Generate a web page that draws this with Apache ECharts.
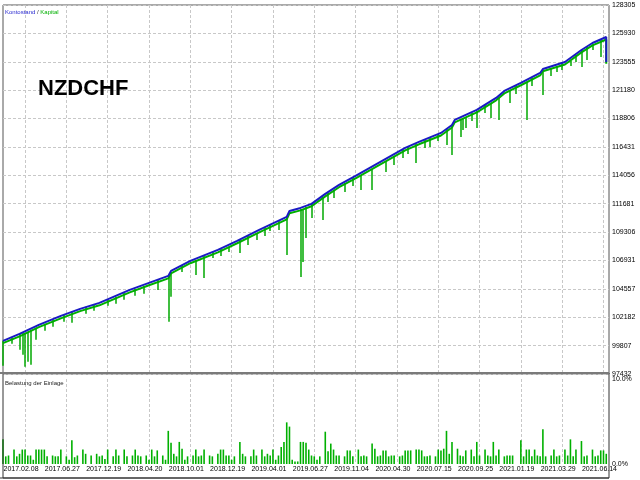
<!DOCTYPE html>
<html><head><meta charset="utf-8">
<script src="https://cdn.jsdelivr.net/npm/echarts@6/dist/echarts.min.js"></script>
<style>html,body{margin:0;padding:0;background:#fff}#c{width:640px;height:480px}</style>
</head><body><div id="c"></div>
<script>
// ---- tick labels ----
const dateLabels = ['2017.02.08','2017.06.27','2017.12.19','2018.04.20','2018.10.01','2018.12.19','2019.04.01','2019.06.27','2019.11.04','2020.04.30','2020.07.15','2020.09.25','2021.01.19','2021.03.29','2021.06.14'];
const priceTicks = [97432, 99807, 102182, 104557, 106931, 109306, 111681, 114056, 116431, 118806, 121180, 123555, 125930, 128305];

// ---- balance (Kontostand) ----
const balTrade = [0, 6, 13, 21, 28, 35, 46, 53, 60, 61, 68, 78, 85, 93, 103, 104, 108, 112, 117, 122, 128, 137, 146, 151, 159, 163, 164, 172, 179, 182, 188, 195, 196, 204, 210, 214, 219, 219];
const balance  = [100205, 100791, 101543, 102296, 102881, 103383, 104470, 105056, 105642, 106060, 106896, 107816, 108569, 109488, 110576, 111077, 111328, 111663, 112499, 113252, 114004, 115175, 116346, 116848, 117600, 118269, 118688, 119524, 120527, 121112, 121782, 122618, 122953, 123538, 124542, 125127, 125629, 123540];
// ---- equity (Kapital) ----
const equity   = [100010, 100580, 101350, 102090, 102690, 103180, 104260, 104860, 105430, 105850, 106700, 107610, 108370, 109280, 110370, 110880, 111120, 111470, 112290, 113060, 113800, 114970, 116140, 116650, 117390, 118060, 118490, 119320, 120330, 120910, 121590, 122410, 122760, 123330, 124340, 124930, 125420, 123390];
// equity dips: trade, value before dip, lowest equity
const dipTrade = [0,3,6,7,8,9,10,12,15,18,22,25,30,33,38,41,44,48,51,56,60,61,65,70,73,76,79,82,86,89,92,95,97,100,103,108,109,110,112,116,118,120,124,127,130,134,139,142,145,147,150,153,155,158,161,163,166,167,168,170,172,175,177,180,184,186,190,192,196,199,201,203,206,208,210,212,214,217];
const dipTop = [100205,100456,100791,100874,100874,100958,101125,101293,101627,101962,102380,102631,103049,103216,103634,103885,104220,104554,104805,105307,105642,105976,106561,106979,107314,107648,107983,108067,108652,108986,109237,109655,109906,110325,110659,111244,111244,111412,111663,112248,112583,112833,113419,113837,114088,114590,115259,115677,116179,116430,116680,117015,117266,117517,118019,118269,118771,118855,118938,119273,119440,119942,120109,120527,121196,121531,121865,122200,122702,123036,123204,123455,123622,124123,124542,124793,125043,125378];
const dipLow = [98115,99954,99453,99034,98031,98449,98198,100289,101041,101376,101794,101711,102463,102715,103132,103300,103634,103969,104136,104470,101794,103885,105976,105725,105474,107147,107314,107648,107565,108234,108652,108986,109404,109488,107397,105558,106812,108819,110492,110325,111830,112164,112666,113168,112833,112833,114339,114924,115510,115844,115091,116346,116430,116932,116597,115760,117266,117851,118019,118604,118019,119273,118855,118688,120109,120862,118688,121531,120778,122367,122702,122869,123204,123538,123120,123705,124542,123956];

// ---- deposit load (Belastung der Einlage), % per trade slot ----
const load = [
 2.9,0.9,1.0,0,1.7,0.9,1.2,1.7,1.7,1.0, 1.0,0.5,1.7,1.7,1.7,1.7,0.9,0,1.0,0.9,
 0.9,1.7,0,0.9,0.5,2.8,0.8,1.0,0,1.7, 1.2,0,1.0,0,1.2,0.9,
 1.0,0.6,1.7,0,0.9,1.7,1.0,0,1.7,0.9, 0,1.0,1.7,1.0,0.9,0,1.0,0.5,1.7,0.9,
 1.6,0,1.0,0.5,3.9,2.5,1.2,0.9,2.6,1.8, 0.5,0.9,0,1.0,1.7,0.9,1.0,1.7,0,1.0,
 0.9,0,1.2,1.7,1.7,1.0,1.0,0.5,0.9,0, 2.6,1.2,0.9,0,0.9,1.7,1.0,0,1.7,0.9,
 1.2,1.0,1.7,0.5,1.0,2.0,2.6,4.9,4.4,0.5, 0.3,0.3,2.6,2.6,2.5,1.7,1.0,0.9,0.5,
 0.9,0,3.8,1.5,2.4,1.7,1.0,1.0,0,0.9, 1.6,1.6,0.9,0,1.7,0.9,1.0,0.9,0,2.4,
 1.8,0.9,1.0,1.6,1.6,0.9,1.0,1.0,0,0.9, 1.0,1.6,1.6,1.6,0,1.7,1.7,1.6,0.9,0.9,
 1.0,0,0.9,1.7,1.6,1.8,3.9,1.2,2.6,0, 1.8,1.0,0.9,1.6,0,1.7,0.9,2.6,1.0,0,
 1.7,1.0,0.9,2.6,1.0,1.7,0,0.9,1.0,1.0, 1.0,0,0,2.8,0.9,1.7,1.7,0.9,1.7,1.0,
 0.9,4.1,0.9,0,1.0,1.7,0.9,1.0,0,1.7, 1.0,2.9,0.9,1.7,0,2.7,0.9,1.0,0,1.7,
 0.9,1.0,1.6,1.6,1.2,0
];

const FIRST_TICK = 8, TICK_STEP = 15;
const trades = load.map((_, i) => String(i));
const isTick = (idx) => idx >= FIRST_TICK && (idx - FIRST_TICK) % TICK_STEP === 0;

const SMALL = '"Liberation Sans", Arial, sans-serif';
const FS = 7;
const GRID_LINE = { type: [3, 2], color: '#c8c8c8', width: 1 };

const balData = balTrade.map((t, k) => [t, balance[k]]);
const eqData = balTrade.map((t, k) => [t, equity[k]]);
const dipData = dipTrade.map((t, k) => ({ coords: [[t, dipTop[k]], [t, dipLow[k]]] }));
const loadData = load.map((v, i) => [i, v]);

const chart = echarts.init(document.getElementById('c'), null, { renderer: 'canvas' });
chart.setOption({
  animation: false,
  backgroundColor: '#fff',
  grid: [
    { left: 3, right: 31, top: 5, height: 369, show: true, borderColor: '#555', borderWidth: 1, backgroundColor: 'transparent' },
    { left: 3, right: 31, top: 379, height: 85, show: false }
  ],
  xAxis: [
    { type: 'category', gridIndex: 0, data: trades, boundaryGap: false,
      axisLine: { show: false }, axisTick: { show: false }, axisLabel: { show: false },
      splitLine: { show: true, interval: isTick, lineStyle: GRID_LINE } },
    { type: 'category', gridIndex: 1, data: trades, boundaryGap: false,
      axisLine: { show: false }, axisTick: { show: false },
      axisLabel: { show: true, interval: isTick, margin: 2, fontSize: FS, fontFamily: SMALL, color: '#000',
        padding: [0, 8, 0, 0], hideOverlap: false,
        formatter: (v) => dateLabels[(Number(v) - FIRST_TICK) / TICK_STEP] },
      splitLine: { show: true, interval: isTick, lineStyle: GRID_LINE } }
  ],
  yAxis: [
    { type: 'value', gridIndex: 0, min: 97432, max: 128305, show: false, splitLine: { show: false } },
    { type: 'value', gridIndex: 0, position: 'right', min: 0, max: 13, interval: 1,
      axisLine: { show: false }, axisTick: { show: false },
      axisLabel: { margin: 3, fontSize: FS, fontFamily: SMALL, color: '#000', formatter: (v) => String(priceTicks[v]) },
      splitLine: { show: true, lineStyle: GRID_LINE } },
    { type: 'value', gridIndex: 1, position: 'right', min: 0, max: 10, interval: 10,
      axisLine: { show: false }, axisTick: { show: false },
      axisLabel: { margin: 3, fontSize: FS, fontFamily: SMALL, color: '#000', formatter: (v) => v.toFixed(1) + '%' },
      splitLine: { show: false } }
  ],
  series: [
    { name: 'Kapital', type: 'line', xAxisIndex: 0, yAxisIndex: 0, data: eqData, symbol: 'none',
      lineStyle: { color: '#00b000', width: 2 }, z: 2 },
    { name: 'Kapital dips', type: 'lines', coordinateSystem: 'cartesian2d', xAxisIndex: 0, yAxisIndex: 0,
      data: dipData, lineStyle: { color: '#00a800', width: 1.5, opacity: 1 }, z: 3 },
    { name: 'Kontostand', type: 'line', xAxisIndex: 0, yAxisIndex: 0, data: balData, symbol: 'none',
      lineStyle: { color: '#1a1ac4', width: 2 }, z: 4 },
    { name: 'Belastung der Einlage', type: 'bar', xAxisIndex: 1, yAxisIndex: 2, data: loadData,
      barWidth: 1.6, itemStyle: { color: '#00b000' } }
  ],
  graphic: [
    { type: 'rect', shape: { x: 3, y: 373, width: 606, height: 105 }, style: { fill: 'none', stroke: '#333', lineWidth: 1 }, z: 10 },
    { type: 'rect', shape: { x: 0, y: 372, width: 609, height: 2 }, style: { fill: '#7a7a7a' }, z: 11 },
    { type: 'rect', shape: { x: 0, y: 477.5, width: 609, height: 1 }, style: { fill: '#333' }, z: 11 },
    { type: 'text', x: 5, y: 12, style: { text: '{a|Kontostand} {s|/} {b|Kapital}', fontSize: 6, fontFamily: SMALL, verticalAlign: 'middle',
        rich: { a: { fill: '#2a2ad0', fontSize: 6, fontFamily: SMALL }, s: { fill: '#333', fontSize: 6, fontFamily: SMALL }, b: { fill: '#00b000', fontSize: 6, fontFamily: SMALL } } }, z: 12 },
    { type: 'text', x: 5, y: 383, style: { text: 'Belastung der Einlage', fill: '#222', fontSize: 6, fontFamily: SMALL, verticalAlign: 'middle' }, z: 12 },
    { type: 'text', x: 38, y: 89, style: { text: 'NZDCHF', fill: '#000', fontSize: 22, fontWeight: 'bold', fontFamily: '"Liberation Sans", Arial, sans-serif', verticalAlign: 'middle' }, z: 12 }
  ]
});
</script>
</body></html>
